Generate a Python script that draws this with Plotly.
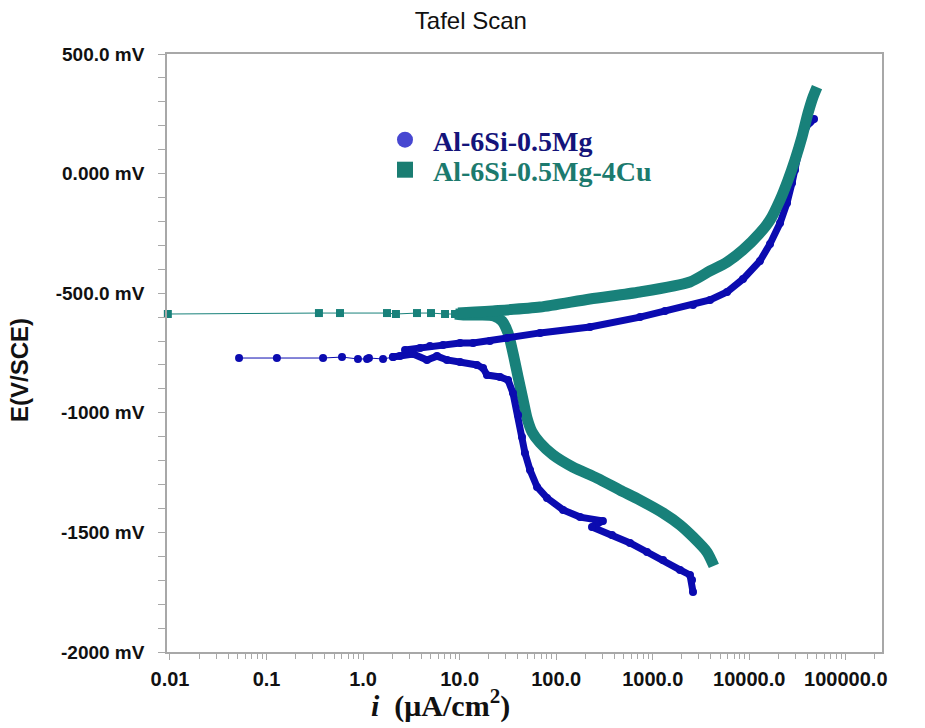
import plotly.graph_objects as go

# ---------------- data: current density i (uA/cm^2), potential E (mV vs SCE) ----------------
# Al-6Si-0.5Mg
mg_cath_i = [2615, 2553, 2432, 1919, 1279, 873, 582, 379, 235, 305, 177, 118, 80.4, 63.4,
             53.6, 47.5, 44.3, 40.3, 35.7, 31.7, 26.2, 19.2, 17.5, 15.1, 10.1, 7.40, 5.83,
             4.59, 3.29, 2.41, 2.04]
mg_cath_E = [-1749, -1699, -1678, -1657, -1615, -1582, -1544, -1511, -1477, -1452, -1436,
             -1406, -1356, -1310, -1239, -1168, -1101, -1009, -917, -863, -850, -842, -813,
             -800, -788, -779, -763, -779, -754, -763, -767]
mg_ecorr_i = [2.04, 1.61, 1.15, 1.10, 0.885, 0.605, 0.385, 0.128, 0.0519]
mg_ecorr_E = [-767, -775, -771, -775, -775, -767, -771, -771, -771]
mg_anod_i = [2.72, 3.89, 4.93, 6.73, 10.1, 13.8, 20.6, 31.0, 68.1, 224, 738, 1340, 2615,
             3926, 5888, 8610, 12920, 16410, 20840, 24600, 27730, 29790, 31990, 35160,
             38730, 42560, 46880]
mg_anod_E = [-737, -729, -721, -717, -708, -708, -700, -687, -666, -641, -600, -574, -549,
             -528, -495, -441, -365, -294, -207, -123, -39, 15, 86, 153, 195, 216, 228]

# Al-6Si-0.5Mg-4Cu
cu_cath_i = [4300, 3650, 2615, 1919, 1279, 738, 458, 265, 149, 92.7, 68.1, 56.2, 49.9,
             45.4, 40.3, 35.7, 31.7, 27.5, 22.7, 16.3, 11.4, 8.96]
cu_cath_E = [-1640, -1582, -1519, -1469, -1419, -1365, -1323, -1273, -1227, -1176, -1126,
             -1080, -1022, -946, -850, -750, -666, -616, -595, -591, -591, -587]
cu_ecorr_i = [8.96, 7.06, 5.05, 3.62, 2.19, 1.77, 0.577, 0.349, 0.0095]
cu_ecorr_E = [-587, -587, -583, -583, -587, -583, -583, -583, -587]
cu_anod_i = [9.62, 14.4, 22.2, 68.1, 224, 738, 2432, 3926, 5888, 8610, 12920, 16410,
             20840, 25190, 29790, 35160, 40640, 45710, 50350]
cu_anod_E = [-583, -579, -574, -558, -524, -495, -453, -407, -370, -319, -248, -194,
             -110, -27, 57, 153, 253, 320, 362]

series_names = ["Al-6Si-0.5Mg", "Al-6Si-0.5Mg-4Cu"]

# axis ticks
x_tick_vals = [0.01, 0.1, 1, 10, 100, 1000, 10000, 100000]
x_tick_text = ["0.01", "0.1", "1.0", "10.0", "100.0", "1000.0", "10000.0", "100000.0"]
y_tick_vals = [500, 0, -500, -1000, -1500, -2000]
y_tick_text = ["500.0 mV", "0.000 mV", "-500.0 mV", "-1000 mV", "-1500 mV", "-2000 mV"]

# ---------------- styling ----------------
BLUE = "#0b0bb0"
TEAL = "#18817a"
SANS = "Liberation Sans, Arial, sans-serif"
SERIF = "Liberation Serif, Times New Roman, serif"
FRAME = "#a8a8a8"

fig = go.Figure()


def band(x, y, color, width, symbol=None):
    """Dense part of a sweep drawn as a thick stroke (optionally dotted with markers)."""
    if symbol:
        fig.add_trace(go.Scatter(
            x=x, y=y, mode="lines+markers",
            line=dict(color=color, width=width),
            marker=dict(color=color, size=width + 1, symbol=symbol, line=dict(width=0)),
            showlegend=False, hoverinfo="x+y"))
    else:
        fig.add_trace(go.Scatter(
            x=x, y=y, mode="lines",
            line=dict(color=color, width=width, shape="spline", smoothing=0.7),
            showlegend=False, hoverinfo="x+y"))


def sparse(x, y, color, size, symbol):
    """Sparse points close to Ecorr: thin connecting line plus markers."""
    fig.add_trace(go.Scatter(
        x=x, y=y, mode="lines+markers",
        line=dict(color=color, width=1),
        marker=dict(color=color, size=size, symbol=symbol, line=dict(width=0)),
        cliponaxis=False, showlegend=False, hoverinfo="x+y"))


band(cu_cath_i, cu_cath_E, TEAL, 11)
sparse(cu_ecorr_i, cu_ecorr_E, TEAL, 8, "square")
band(mg_cath_i, mg_cath_E, BLUE, 7, "circle")
sparse(mg_ecorr_i, mg_ecorr_E, BLUE, 8, "circle")
band(mg_anod_i, mg_anod_E, BLUE, 7, "circle")
band(cu_anod_i, cu_anod_E, TEAL, 11)

# legend entries, one legend box per alloy so each row can be placed on its own
fig.add_trace(go.Scatter(
    x=[None], y=[None], mode="markers", legend="legend",
    marker=dict(color="#4747d1", size=18, symbol="circle"),
    name="<b><span style='color:#14147a'>" + series_names[0] + "</span></b>"))
fig.add_trace(go.Scatter(
    x=[None], y=[None], mode="markers", legend="legend2",
    marker=dict(color="#1a7d72", size=17, symbol="square"),
    name="<b><span style='color:#1c7a6e'>" + series_names[1] + "</span></b>"))

legend_style = dict(xanchor="left", yanchor="middle", bgcolor="rgba(0,0,0,0)",
                    borderwidth=0, font=dict(family=SERIF, size=28),
                    itemsizing="trace", itemwidth=46)

fig.update_layout(
    width=925, height=728,
    margin=dict(l=167, r=43, t=54, b=76),
    paper_bgcolor="white", plot_bgcolor="white",
    title=dict(text="Tafel Scan", x=0.509, xref="container", xanchor="center",
               y=1 - 21 / 728, yref="container", yanchor="middle",
               font=dict(family=SANS, size=24, color="#111111")),
    showlegend=True,
    legend=dict(x=0.2937, y=(652 - 140) / 598, **legend_style),
    legend2=dict(x=0.2937, y=(652 - 170) / 598, **legend_style),
    xaxis=dict(
        type="log", range=[-2.031, 5.375], automargin=False,
        tickmode="array", tickvals=x_tick_vals, ticktext=x_tick_text,
        ticks="outside", ticklen=6, tickcolor=FRAME, tickwidth=1,
        minor=dict(dtick="D1", ticks="outside", ticklen=5, tickcolor=FRAME, showgrid=False),
        tickfont=dict(family=SANS, size=20, color="#111111", weight="bold"),
        ticklabelstandoff=2,
        showline=True, linecolor=FRAME, linewidth=1.5, mirror=True,
        showgrid=False, zeroline=False),
    yaxis=dict(
        range=[-2000, 500], automargin=False,
        tickmode="array", tickvals=y_tick_vals, ticktext=y_tick_text,
        ticks="outside", ticklen=7, tickcolor=FRAME, tickwidth=1,
        minor=dict(dtick=100, ticks="outside", ticklen=7, tickcolor=FRAME, showgrid=False),
        tickfont=dict(family=SANS, size=19, color="#111111", weight="bold"),
        ticklabelstandoff=10,
        showline=True, linecolor=FRAME, linewidth=1.5, mirror=True,
        showgrid=False, zeroline=False),
    annotations=[
        dict(text="<b><i>i</i>  (\u03bcA/cm<sup>2</sup>)</b>", xref="paper", yref="paper",
             x=0.382, y=(652 - 703) / 598, xanchor="center", yanchor="middle",
             showarrow=False, font=dict(family=SERIF, size=30, color="#111111")),
        dict(text="<b>E(V/SCE)</b>", xref="paper", yref="paper",
             x=-0.2056, y=0.4716, xanchor="center", yanchor="middle", showarrow=False,
             textangle=-90, font=dict(family=SANS, size=24, color="#111111")),
    ],
)

fig.write_html("out.html")
